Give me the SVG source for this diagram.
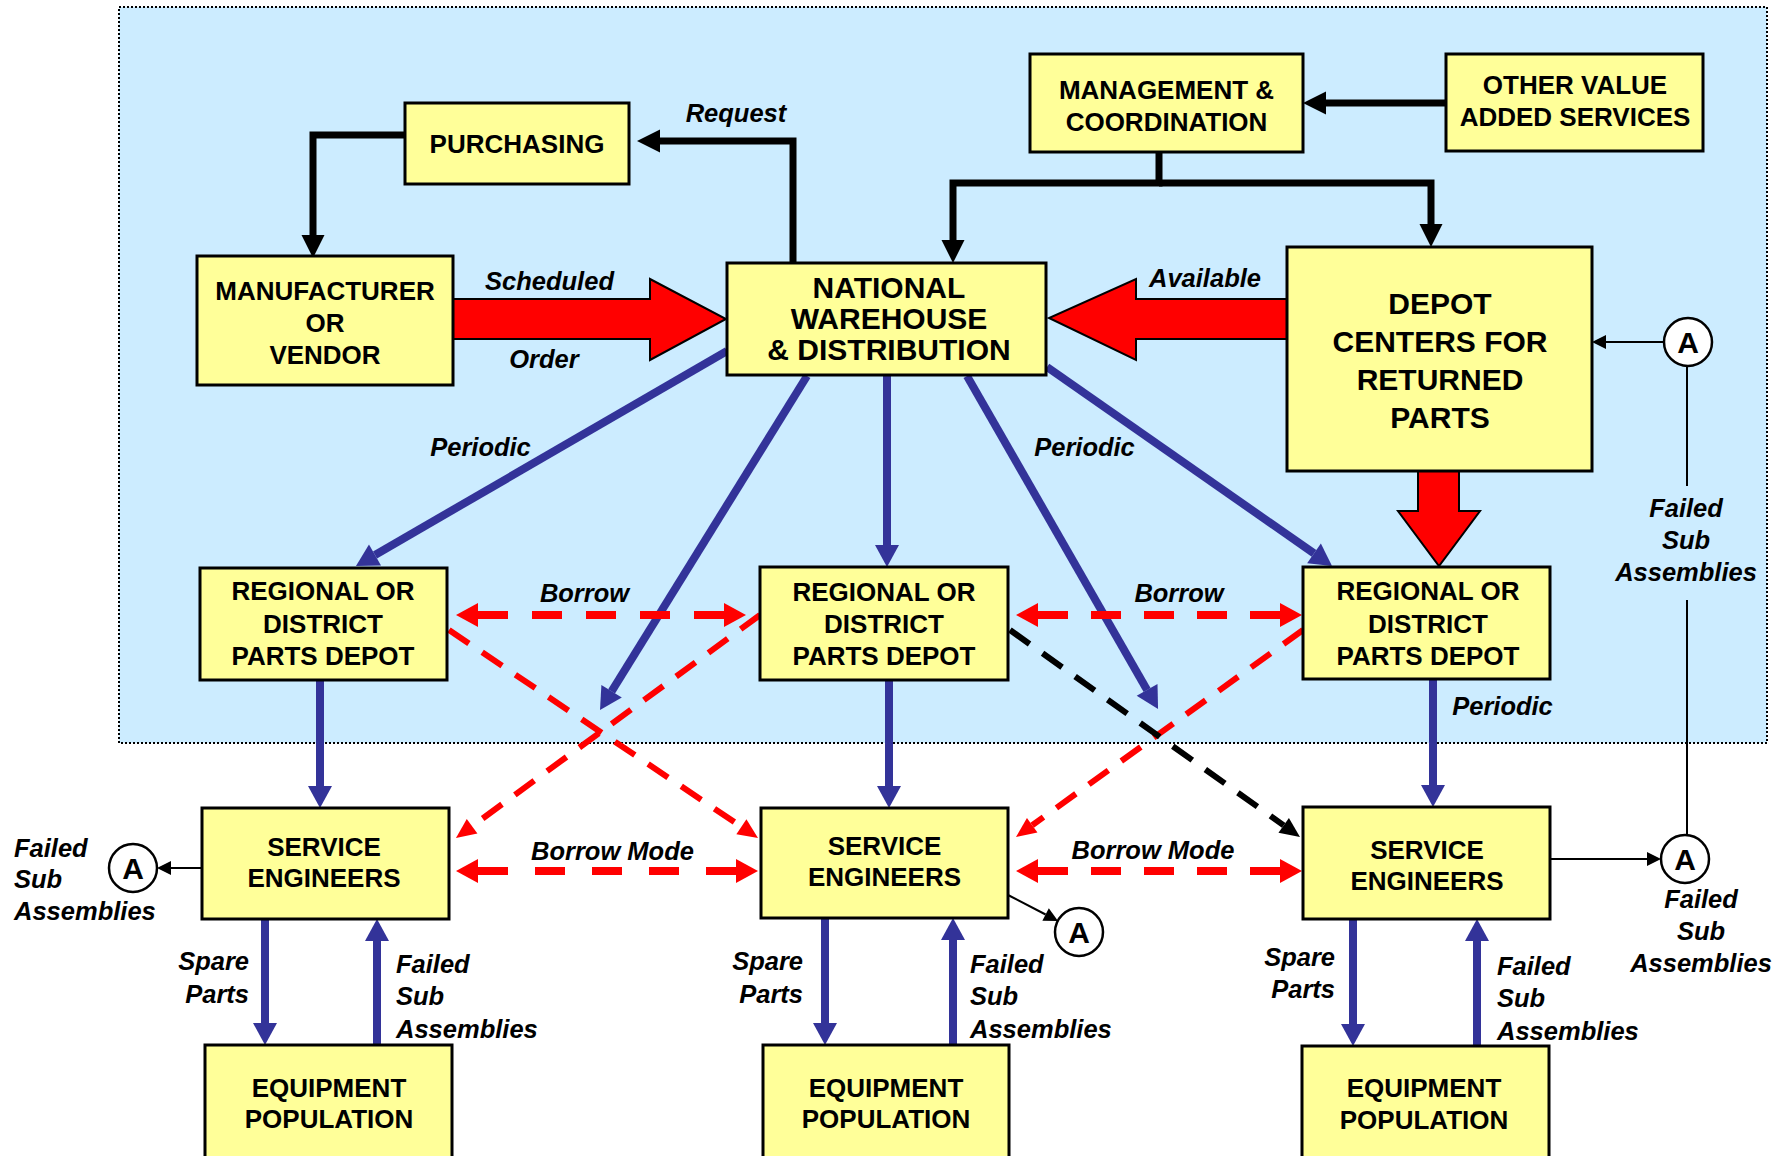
<svg xmlns="http://www.w3.org/2000/svg" width="1790" height="1156" viewBox="0 0 1790 1156">
  <style>
    .box { fill: #FFFF99; stroke: #000; stroke-width: 3; }
    .bt { font-family: "Liberation Sans", Arial, sans-serif; font-weight: bold; font-size: 26px; fill: #000; text-anchor: middle; }
    .big { font-size: 30px; }
    .lbl { font-family: "Liberation Sans", Arial, sans-serif; font-weight: bold; font-style: italic; font-size: 25.5px; fill: #000; }
    .mid { text-anchor: middle; }
    .end { text-anchor: end; }
    .blue { fill: none; stroke: #333399; stroke-width: 8; marker-end: url(#hb); }
    .blk { fill: none; stroke: #000; stroke-width: 7; stroke-linejoin: miter; }
    .rdash { fill: none; stroke: #FF0000; stroke-width: 8; marker-start: url(#hr); marker-end: url(#hr); }
    .rdiag { fill: none; stroke: #FF0000; stroke-width: 6; stroke-dasharray: 24 16; marker-end: url(#hrs); }
    .kdiag { fill: none; stroke: #000; stroke-width: 6; stroke-dasharray: 24 16; marker-end: url(#hks); }
    .thin { fill: none; stroke: #000; stroke-width: 2; }
    .block { fill: #FF0000; stroke: #000; stroke-width: 2; stroke-linejoin: miter; }
    .circ { fill: #fff; stroke: #000; stroke-width: 2.5; }
    .ca { font-family: "Liberation Sans", Arial, sans-serif; font-weight: bold; font-size: 30px; fill: #000; text-anchor: middle; }
  </style>
  <defs>
    <marker id="hb" markerUnits="userSpaceOnUse" orient="auto" refX="0" refY="0" markerWidth="24" markerHeight="26" overflow="visible">
      <path d="M0,-12 L22,0 L0,12 z" fill="#333399"/>
    </marker>
    <marker id="hk" markerUnits="userSpaceOnUse" orient="auto" refX="0" refY="0" markerWidth="24" markerHeight="26" overflow="visible">
      <path d="M0,-11.5 L23,0 L0,11.5 z" fill="#000"/>
    </marker>
    <marker id="hr" markerUnits="userSpaceOnUse" orient="auto-start-reverse" refX="0" refY="0" markerWidth="24" markerHeight="26" overflow="visible">
      <path d="M0,-12 L22,0 L0,12 z" fill="#FF0000"/>
    </marker>
    <marker id="hrs" markerUnits="userSpaceOnUse" orient="auto" refX="0" refY="0" markerWidth="22" markerHeight="20" overflow="visible">
      <path d="M0,-9 L20,0 L0,9 z" fill="#FF0000"/>
    </marker>
    <marker id="hks" markerUnits="userSpaceOnUse" orient="auto" refX="0" refY="0" markerWidth="22" markerHeight="20" overflow="visible">
      <path d="M0,-9 L20,0 L0,9 z" fill="#000"/>
    </marker>
    <marker id="ht" markerUnits="userSpaceOnUse" orient="auto" refX="0" refY="0" markerWidth="16" markerHeight="16" overflow="visible">
      <path d="M0,-7 L14,0 L0,7 z" fill="#000"/>
    </marker>
  </defs>

  <!-- background -->
  <rect x="0" y="0" width="1790" height="1156" fill="#fff"/>
  <!-- central distribution area -->
  <rect id="central-area" x="119" y="7" width="1648" height="736" fill="#CCECFF" stroke="#000" stroke-width="2" stroke-dasharray="2 2"/>

  <g id="connectors">
    <!-- management / purchasing flows -->
    <path class="blk" d="M793,263 V141 H660" marker-end="url(#hk)"/>
    <path class="blk" d="M405,135 H313 V235" marker-end="url(#hk)"/>
    <path class="blk" d="M1446,103 H1326" marker-end="url(#hk)"/>
    <path class="blk" d="M1159,152 V183 H953 V240" marker-end="url(#hk)"/>
    <path class="blk" d="M1159,183 H1431 V224" marker-end="url(#hk)"/>

    <!-- bulk flows -->
    <polygon class="block" points="453,299 650,299 650,279 726,319 650,360 650,339 453,339"/>
    <polygon class="block" points="1287,299 1136,299 1136,279 1049,318 1136,360 1136,339 1287,339"/>
    <polygon class="block" points="1418,471 1418,511 1398,511 1439,566 1480,511 1459,511 1459,471"/>

    <!-- periodic replenishment -->
    <path class="blue" d="M727,351 L375,555"/>
    <path class="blue" d="M807,376 L611.6,691.3"/>
    <path class="blue" d="M887,376 V545"/>
    <path class="blue" d="M967,376 L1147.1,689.9"/>
    <path class="blue" d="M1047,367 L1314,553.4"/>
    <path class="blue" d="M320,680 V786"/>
    <path class="blue" d="M889,680 V786"/>
    <path class="blue" d="M1433,679 V785"/>
    <path class="blue" d="M265,919 V1023"/>
    <path class="blue" d="M377,1045 V941"/>
    <path class="blue" d="M825,918 V1023"/>
    <path class="blue" d="M953,1045 V940"/>
    <path class="blue" d="M1353,919 V1024"/>
    <path class="blue" d="M1477,1046 V941"/>

    <!-- borrow links -->
    <path class="rdash" d="M478,615 H724" stroke-dasharray="30 24"/>
    <path class="rdash" d="M1038,615 H1280" stroke-dasharray="30 23"/>
    <path class="rdash" d="M478,871 H736" stroke-dasharray="30 27"/>
    <path class="rdash" d="M1038,871 H1280" stroke-dasharray="30 23"/>
    <path class="rdiag" d="M449,630 L741.4,826.8"/>
    <path class="rdiag" d="M760,615 L472.1,826.2"/>
    <path class="rdiag" d="M1303,630 L1032.2,825.3"/>
    <path class="kdiag" d="M1010,630 L1283.7,825.4"/>

    <!-- failed sub assembly returns -->
    <path class="thin" d="M1664,342 H1606" marker-end="url(#ht)"/>
    <path class="thin" d="M1687,367 V486 M1687,600 V835"/>
    <path class="thin" d="M1550,859 H1647" marker-end="url(#ht)"/>
    <path class="thin" d="M202,868 H171" marker-end="url(#ht)"/>
    <path class="thin" d="M1008,895 L1045.6,914.5" marker-end="url(#ht)"/>
  </g>

  <g id="purchasing">
    <rect class="box" x="405" y="103" width="224" height="81"/>
    <text class="bt" x="517" y="153">PURCHASING</text>
  </g>
  <g id="manufacturer">
    <rect class="box" x="197" y="256" width="256" height="129"/>
    <text class="bt" x="325" y="300">MANUFACTURER</text>
    <text class="bt" x="325" y="332">OR</text>
    <text class="bt" x="325" y="364">VENDOR</text>
  </g>
  <g id="national-warehouse">
    <rect class="box" x="727" y="263" width="319" height="112"/>
    <text class="bt big" x="889" y="298">NATIONAL</text>
    <text class="bt big" x="889" y="329">WAREHOUSE</text>
    <text class="bt big" x="889" y="360">&amp; DISTRIBUTION</text>
  </g>
  <g id="management">
    <rect class="box" x="1030" y="54" width="273" height="98"/>
    <text class="bt" x="1166.5" y="99">MANAGEMENT &amp;</text>
    <text class="bt" x="1166.5" y="131">COORDINATION</text>
  </g>
  <g id="other-services">
    <rect class="box" x="1446" y="54" width="257" height="97"/>
    <text class="bt" x="1575" y="94">OTHER VALUE</text>
    <text class="bt" x="1575" y="126">ADDED SERVICES</text>
  </g>
  <g id="depot-centers">
    <rect class="box" x="1287" y="247" width="305" height="224"/>
    <text class="bt big" x="1440" y="314">DEPOT</text>
    <text class="bt big" x="1440" y="352">CENTERS FOR</text>
    <text class="bt big" x="1440" y="390">RETURNED</text>
    <text class="bt big" x="1440" y="428">PARTS</text>
  </g>

  <g id="regional-1">
    <rect class="box" x="200" y="568" width="247" height="112"/>
    <text class="bt" x="323" y="600">REGIONAL OR</text>
    <text class="bt" x="323" y="633">DISTRICT</text>
    <text class="bt" x="323" y="665">PARTS DEPOT</text>
  </g>
  <g id="regional-2">
    <rect class="box" x="760" y="567" width="248" height="113"/>
    <text class="bt" x="884" y="601">REGIONAL OR</text>
    <text class="bt" x="884" y="633">DISTRICT</text>
    <text class="bt" x="884" y="665">PARTS DEPOT</text>
  </g>
  <g id="regional-3">
    <rect class="box" x="1303" y="567" width="247" height="112"/>
    <text class="bt" x="1428" y="600">REGIONAL OR</text>
    <text class="bt" x="1428" y="633">DISTRICT</text>
    <text class="bt" x="1428" y="665">PARTS DEPOT</text>
  </g>

  <g id="service-1">
    <rect class="box" x="202" y="808" width="247" height="111"/>
    <text class="bt" x="324" y="856">SERVICE</text>
    <text class="bt" x="324" y="887">ENGINEERS</text>
  </g>
  <g id="service-2">
    <rect class="box" x="761" y="808" width="247" height="110"/>
    <text class="bt" x="884.5" y="855">SERVICE</text>
    <text class="bt" x="884.5" y="886">ENGINEERS</text>
  </g>
  <g id="service-3">
    <rect class="box" x="1303" y="807" width="247" height="112"/>
    <text class="bt" x="1427" y="859">SERVICE</text>
    <text class="bt" x="1427" y="890">ENGINEERS</text>
  </g>

  <g id="equipment-1">
    <rect class="box" x="205" y="1045" width="247" height="130"/>
    <text class="bt" x="329" y="1097">EQUIPMENT</text>
    <text class="bt" x="329" y="1128">POPULATION</text>
  </g>
  <g id="equipment-2">
    <rect class="box" x="763" y="1045" width="246" height="130"/>
    <text class="bt" x="886" y="1097">EQUIPMENT</text>
    <text class="bt" x="886" y="1128">POPULATION</text>
  </g>
  <g id="equipment-3">
    <rect class="box" x="1302" y="1046" width="247" height="130"/>
    <text class="bt" x="1424" y="1097">EQUIPMENT</text>
    <text class="bt" x="1424" y="1129">POPULATION</text>
  </g>

  <!-- off-page connector circles -->
  <g id="connector-a-depot">
    <circle class="circ" cx="1688" cy="342" r="24"/>
    <text class="ca" x="1688" y="353">A</text>
  </g>
  <g id="connector-a-1">
    <circle class="circ" cx="133" cy="868" r="24"/>
    <text class="ca" x="133" y="879">A</text>
  </g>
  <g id="connector-a-2">
    <circle class="circ" cx="1079" cy="932" r="24"/>
    <text class="ca" x="1079" y="943">A</text>
  </g>
  <g id="connector-a-3">
    <circle class="circ" cx="1685" cy="859" r="24"/>
    <text class="ca" x="1685" y="870">A</text>
  </g>

  <g id="labels">
    <text class="lbl mid" x="736" y="122">Request</text>
    <text class="lbl mid" x="549.5" y="290">Scheduled</text>
    <text class="lbl mid" x="544" y="368">Order</text>
    <text class="lbl mid" x="1205" y="287">Available</text>
    <text class="lbl mid" x="480.5" y="456">Periodic</text>
    <text class="lbl mid" x="1084.5" y="456">Periodic</text>
    <text class="lbl mid" x="1502.5" y="715">Periodic</text>
    <text class="lbl mid" x="584.5" y="602">Borrow</text>
    <text class="lbl mid" x="1179" y="602">Borrow</text>
    <text class="lbl mid" x="612.5" y="860">Borrow Mode</text>
    <text class="lbl mid" x="1153" y="859">Borrow Mode</text>

    <text class="lbl mid" x="1686" y="517">Failed</text>
    <text class="lbl mid" x="1686" y="549">Sub</text>
    <text class="lbl mid" x="1686" y="581">Assemblies</text>

    <text class="lbl" x="14" y="857">Failed</text>
    <text class="lbl" x="14" y="888">Sub</text>
    <text class="lbl" x="14" y="920">Assemblies</text>

    <text class="lbl mid" x="1701" y="908">Failed</text>
    <text class="lbl mid" x="1701" y="940">Sub</text>
    <text class="lbl mid" x="1701" y="972">Assemblies</text>

    <text class="lbl end" x="249" y="970">Spare</text>
    <text class="lbl end" x="249" y="1003">Parts</text>
    <text class="lbl" x="396" y="973">Failed</text>
    <text class="lbl" x="396" y="1005">Sub</text>
    <text class="lbl" x="396" y="1038">Assemblies</text>

    <text class="lbl end" x="803" y="970">Spare</text>
    <text class="lbl end" x="803" y="1003">Parts</text>
    <text class="lbl" x="970" y="973">Failed</text>
    <text class="lbl" x="970" y="1005">Sub</text>
    <text class="lbl" x="970" y="1038">Assemblies</text>

    <text class="lbl end" x="1335" y="966">Spare</text>
    <text class="lbl end" x="1335" y="998">Parts</text>
    <text class="lbl" x="1497" y="975">Failed</text>
    <text class="lbl" x="1497" y="1007">Sub</text>
    <text class="lbl" x="1497" y="1040">Assemblies</text>
  </g>
</svg>
